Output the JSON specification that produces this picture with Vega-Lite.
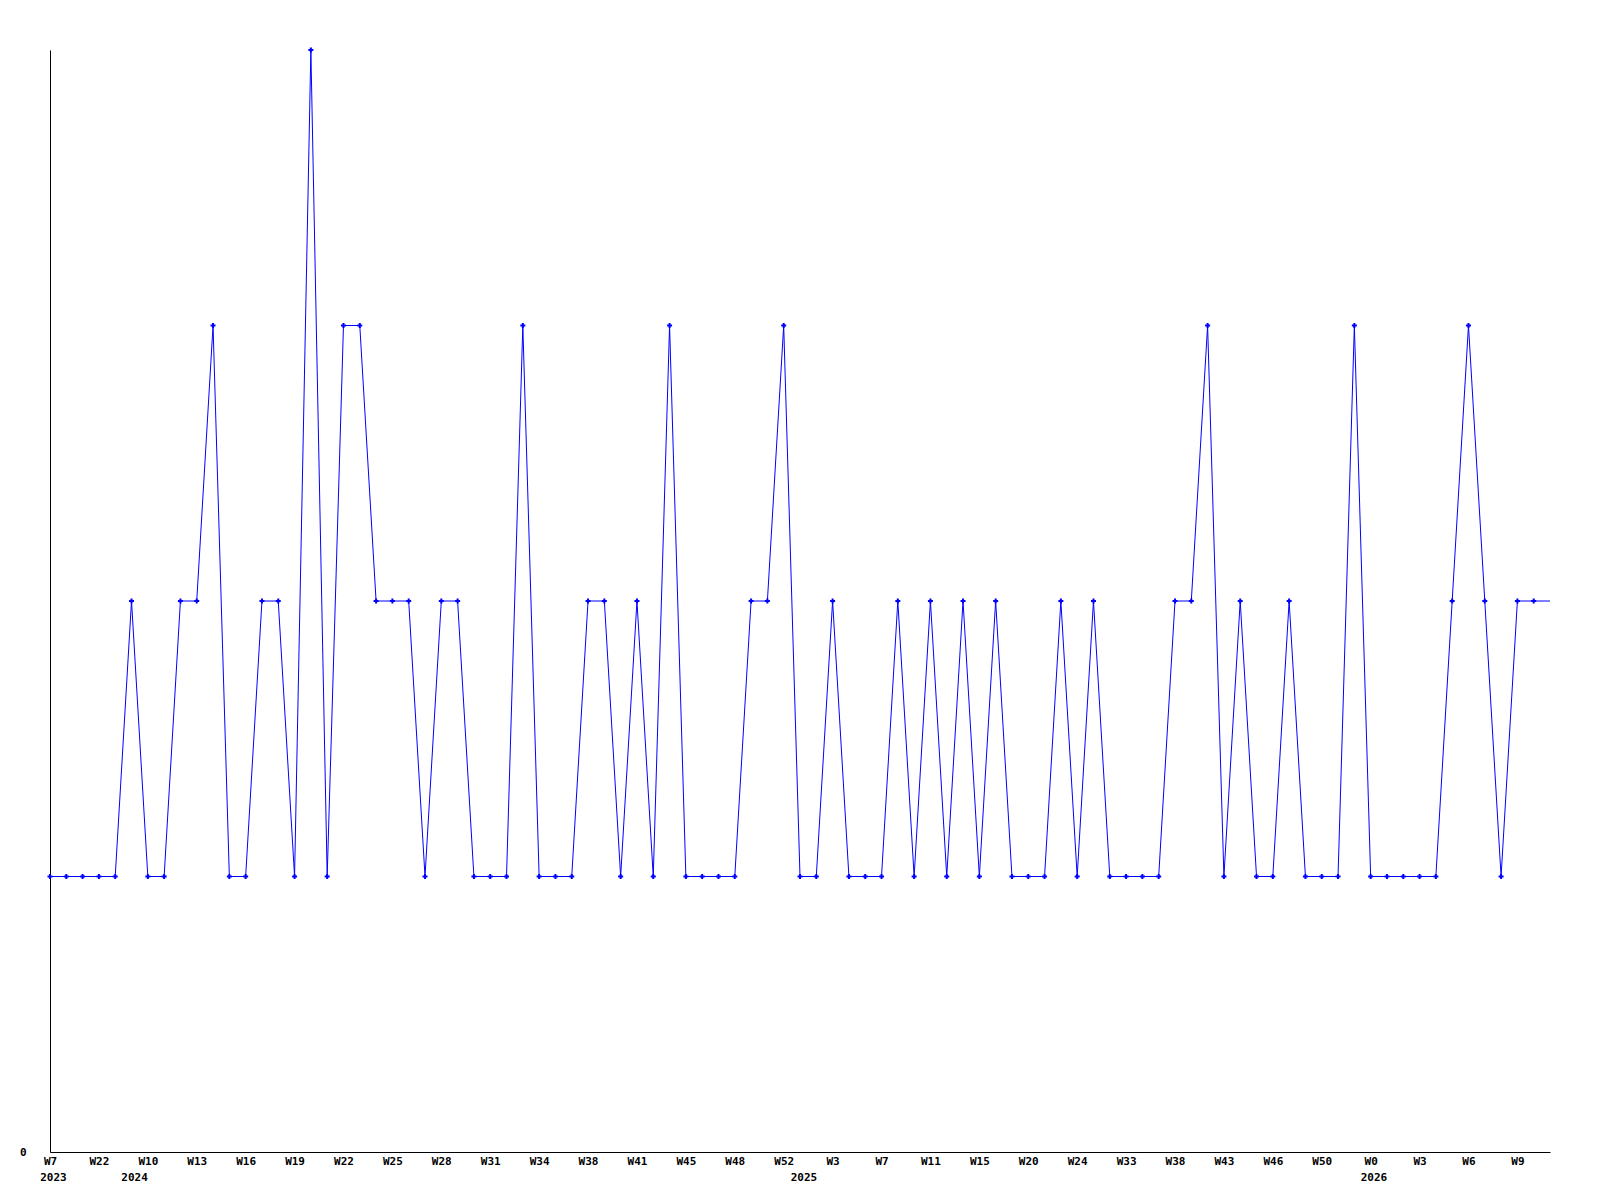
{
  "$schema": "https://vega.github.io/schema/vega-lite/v6.json",
  "width": 1500,
  "height": 1102,
  "autosize": {"type": "none"},
  "padding": {"left": 50, "top": 50, "right": 50, "bottom": 48},
  "background": "white",
  "config": {"view": {"stroke": null}},
  "datasets": {
    "series": [
      {"idx": 0, "value": 1}, {"idx": 1, "value": 1}, {"idx": 2, "value": 1}, {"idx": 3, "value": 1},
      {"idx": 4, "value": 1}, {"idx": 5, "value": 2}, {"idx": 6, "value": 1}, {"idx": 7, "value": 1},
      {"idx": 8, "value": 2}, {"idx": 9, "value": 2}, {"idx": 10, "value": 3}, {"idx": 11, "value": 1},
      {"idx": 12, "value": 1}, {"idx": 13, "value": 2}, {"idx": 14, "value": 2}, {"idx": 15, "value": 1},
      {"idx": 16, "value": 4}, {"idx": 17, "value": 1}, {"idx": 18, "value": 3}, {"idx": 19, "value": 3},
      {"idx": 20, "value": 2}, {"idx": 21, "value": 2}, {"idx": 22, "value": 2}, {"idx": 23, "value": 1},
      {"idx": 24, "value": 2}, {"idx": 25, "value": 2}, {"idx": 26, "value": 1}, {"idx": 27, "value": 1},
      {"idx": 28, "value": 1}, {"idx": 29, "value": 3}, {"idx": 30, "value": 1}, {"idx": 31, "value": 1},
      {"idx": 32, "value": 1}, {"idx": 33, "value": 2}, {"idx": 34, "value": 2}, {"idx": 35, "value": 1},
      {"idx": 36, "value": 2}, {"idx": 37, "value": 1}, {"idx": 38, "value": 3}, {"idx": 39, "value": 1},
      {"idx": 40, "value": 1}, {"idx": 41, "value": 1}, {"idx": 42, "value": 1}, {"idx": 43, "value": 2},
      {"idx": 44, "value": 2}, {"idx": 45, "value": 3}, {"idx": 46, "value": 1}, {"idx": 47, "value": 1},
      {"idx": 48, "value": 2}, {"idx": 49, "value": 1}, {"idx": 50, "value": 1}, {"idx": 51, "value": 1},
      {"idx": 52, "value": 2}, {"idx": 53, "value": 1}, {"idx": 54, "value": 2}, {"idx": 55, "value": 1},
      {"idx": 56, "value": 2}, {"idx": 57, "value": 1}, {"idx": 58, "value": 2}, {"idx": 59, "value": 1},
      {"idx": 60, "value": 1}, {"idx": 61, "value": 1}, {"idx": 62, "value": 2}, {"idx": 63, "value": 1},
      {"idx": 64, "value": 2}, {"idx": 65, "value": 1}, {"idx": 66, "value": 1}, {"idx": 67, "value": 1},
      {"idx": 68, "value": 1}, {"idx": 69, "value": 2}, {"idx": 70, "value": 2}, {"idx": 71, "value": 3},
      {"idx": 72, "value": 1}, {"idx": 73, "value": 2}, {"idx": 74, "value": 1}, {"idx": 75, "value": 1},
      {"idx": 76, "value": 2}, {"idx": 77, "value": 1}, {"idx": 78, "value": 1}, {"idx": 79, "value": 1},
      {"idx": 80, "value": 3}, {"idx": 81, "value": 1}, {"idx": 82, "value": 1}, {"idx": 83, "value": 1},
      {"idx": 84, "value": 1}, {"idx": 85, "value": 1}, {"idx": 86, "value": 2}, {"idx": 87, "value": 3},
      {"idx": 88, "value": 2}, {"idx": 89, "value": 1}, {"idx": 90, "value": 2}, {"idx": 91, "value": 2}
    ],
    "tail": [
      {"idx": 91, "value": 2}, {"idx": 92, "value": 2}
    ],
    "years": [
      {"pos": 0.21, "year": "2023"},
      {"pos": 5.19, "year": "2024"},
      {"pos": 46.24, "year": "2025"},
      {"pos": 81.2, "year": "2026"}
    ]
  },
  "layer": [
    {
      "data": {"name": "series"},
      "mark": {"type": "line", "color": "#0000ff", "strokeWidth": 1},
      "encoding": {
        "x": {
          "field": "idx", "type": "quantitative", "title": null,
          "scale": {"domain": [0, 92], "nice": false, "zero": false},
          "axis": {
            "values": [0, 3, 6, 9, 12, 15, 18, 21, 24, 27, 30, 33, 36, 39, 42, 45, 48, 51, 54, 57, 60, 63, 66, 69, 72, 75, 78, 81, 84, 87, 90],
            "labelExpr": "['W7','W22','W10','W13','W16','W19','W22','W25','W28','W31','W34','W38','W41','W45','W48','W52','W3','W7','W11','W15','W20','W24','W33','W38','W43','W46','W50','W0','W3','W6','W9'][round(datum.value/3)]",
            "ticks": false, "grid": false,
            "domainColor": "#000000", "domainWidth": 1,
            "labelFont": "DejaVu Sans Mono", "labelFontWeight": "bold", "labelFontSize": 11,
            "labelColor": "#000000", "labelPadding": 3,
            "labelOverlap": false, "labelFlush": false, "labelBound": false
          }
        },
        "y": {
          "field": "value", "type": "quantitative", "title": null,
          "scale": {"domain": [0, 4], "nice": false, "zero": true},
          "axis": {
            "values": [0],
            "format": "d",
            "ticks": false, "grid": false,
            "domainColor": "#000000", "domainWidth": 1,
            "labelFont": "DejaVu Sans Mono", "labelFontWeight": "bold", "labelFontSize": 11,
            "labelColor": "#000000", "labelPadding": 24, "labelBaseline": "middle"
          }
        }
      }
    },
    {
      "data": {"name": "tail"},
      "mark": {"type": "line", "color": "#0000ff", "strokeWidth": 1},
      "encoding": {
        "x": {"field": "idx", "type": "quantitative", "title": null},
        "y": {"field": "value", "type": "quantitative", "title": null}
      }
    },
    {
      "data": {"name": "series"},
      "mark": {"type": "point", "shape": "cross", "filled": true, "size": 25, "color": "#0000ff", "opacity": 1},
      "encoding": {
        "x": {"field": "idx", "type": "quantitative", "title": null},
        "y": {"field": "value", "type": "quantitative", "title": null}
      }
    },
    {
      "data": {"name": "years"},
      "mark": {"type": "text", "font": "DejaVu Sans Mono", "fontWeight": "bold", "fontSize": 11, "color": "#000000", "align": "center", "baseline": "top", "dy": 20},
      "encoding": {
        "x": {"field": "pos", "type": "quantitative", "title": null},
        "y": {"datum": 0, "type": "quantitative", "title": null},
        "text": {"field": "year"}
      }
    }
  ]
}
